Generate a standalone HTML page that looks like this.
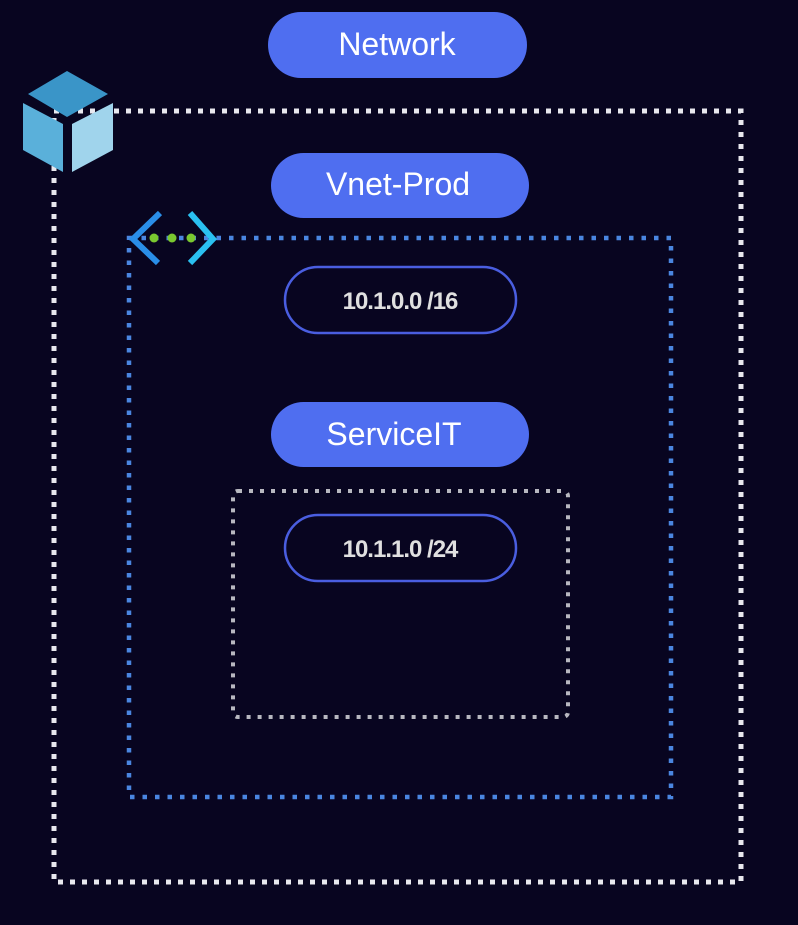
<!DOCTYPE html>
<html><head><meta charset="utf-8"><style>
html,body{margin:0;padding:0;background:#080520;}
svg{display:block}
text{font-family:"Liberation Sans",sans-serif;}
</style></head><body>
<svg width="798" height="925" viewBox="0 0 798 925" xmlns="http://www.w3.org/2000/svg">
<rect width="798" height="925" fill="#080520"/>
<rect x="54" y="111" width="687" height="771" fill="none" stroke="#e8e8ee" stroke-width="5" stroke-dasharray="5 7"/>
<rect x="129" y="238" width="542" height="559" fill="none" stroke="#4a86e0" stroke-width="4.5" stroke-dasharray="4.5 8"/>
<rect x="233" y="491" width="335" height="226" rx="5" fill="none" stroke="#b8b8c0" stroke-width="4" stroke-dasharray="4 7"/>
<rect x="268" y="12" width="259" height="66" rx="33" fill="#4f6ef0"/>
<text x="397" y="55" font-size="32" fill="#fff" text-anchor="middle">Network</text>
<rect x="271" y="153" width="258" height="65" rx="32.5" fill="#4f6ef0"/>
<text x="398" y="195" font-size="32" fill="#fff" text-anchor="middle">Vnet-Prod</text>
<rect x="271" y="402" width="258" height="65" rx="32.5" fill="#4f6ef0"/>
<text x="394" y="445" font-size="32" fill="#fff" text-anchor="middle">ServiceIT</text>
<rect x="285" y="267" width="231" height="66" rx="33" fill="#080520" stroke="#4a5ee0" stroke-width="2.5"/>
<text x="400" y="309" font-size="24" fill="#e0e0e0" text-anchor="middle" font-weight="bold" letter-spacing="-1">10.1.0.0 /16</text>
<rect x="285" y="515" width="231" height="66" rx="33" fill="#080520" stroke="#4a5ee0" stroke-width="2.5"/>
<text x="400" y="557" font-size="24" fill="#e0e0e0" text-anchor="middle" font-weight="bold" letter-spacing="-1">10.1.1.0 /24</text>
<polygon points="67,71 108,94 67,117 28,94" fill="#3a95c8"/>
<polygon points="23,103 63,124 63,172 23,150" fill="#5ab0da"/>
<polygon points="72,124 113,103 113,150 72,172" fill="#a0d4ec"/>
<path d="M160,213 L133,239 L158,263" fill="none" stroke="#2a8ee8" stroke-width="6"/>
<path d="M190,213 L213,239 L190,263" fill="none" stroke="#2ac0f0" stroke-width="6"/>
<circle cx="154" cy="238" r="4.5" fill="#7ac830"/>
<circle cx="172" cy="238" r="4.5" fill="#7ac830"/>
<circle cx="191" cy="238" r="4.5" fill="#7ac830"/>
</svg>
</body></html>
